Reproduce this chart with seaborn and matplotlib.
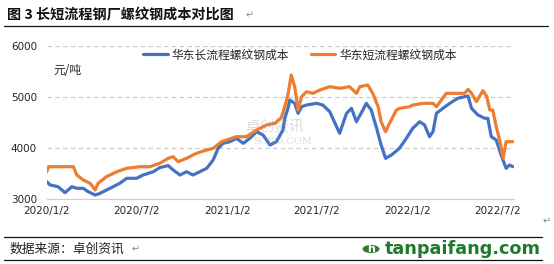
import matplotlib
matplotlib.use("Agg")
import matplotlib.pyplot as plt
from matplotlib.patches import Circle
from matplotlib.lines import Line2D
import seaborn as sns
import pandas as pd

# ---------------- data ----------------
long_dates = ["2020-01-02", "2020-01-09", "2020-01-25", "2020-02-08", "2020-02-22", "2020-03-03",
              "2020-03-16", "2020-03-26", "2020-04-09", "2020-04-19", "2020-05-09", "2020-05-29",
              "2020-06-12", "2020-07-02", "2020-07-15", "2020-08-05", "2020-08-18", "2020-09-04",
              "2020-09-14", "2020-09-28", "2020-10-11", "2020-10-24", "2020-11-07", "2020-11-21",
              "2020-12-04", "2020-12-14", "2020-12-24", "2021-01-07", "2021-01-20", "2021-02-03",
              "2021-02-16", "2021-03-02", "2021-03-15", "2021-03-29", "2021-04-11", "2021-04-18",
              "2021-04-24", "2021-04-28", "2021-05-05", "2021-05-08", "2021-05-18", "2021-05-25",
              "2021-06-01", "2021-06-11", "2021-07-01", "2021-07-14", "2021-07-28", "2021-08-17",
              "2021-08-31", "2021-09-10", "2021-09-20", "2021-10-03", "2021-10-10", "2021-10-20",
              "2021-10-30", "2021-11-09", "2021-11-18", "2021-11-30", "2021-12-16", "2021-12-30",
              "2022-01-06", "2022-01-12", "2022-01-26", "2022-02-05", "2022-02-15", "2022-02-22",
              "2022-03-01", "2022-03-14", "2022-03-28", "2022-04-13", "2022-04-27", "2022-05-04",
              "2022-05-11", "2022-05-24", "2022-06-07", "2022-06-13", "2022-06-20", "2022-06-30",
              "2022-07-10", "2022-07-20", "2022-07-27", "2022-08-03"]
long_cost = [3345, 3280, 3247, 3130, 3247, 3215,
             3215, 3149, 3084, 3117, 3215, 3313,
             3411, 3411, 3475, 3540, 3620, 3660,
             3573, 3475, 3540, 3475, 3540, 3607,
             3769, 3998, 4096, 4127, 4192, 4096,
             4192, 4323, 4258, 4063, 4127, 4250,
             4350, 4585, 4800, 4943, 4878, 4683,
             4812, 4845, 4878, 4845, 4714, 4292,
             4683, 4780, 4518, 4747, 4878, 4747,
             4421, 4063, 3802, 3867, 3998, 4192,
             4300, 4389, 4518, 4454, 4225, 4323,
             4683, 4780, 4878, 4976, 5008, 5021,
             4780, 4649, 4585, 4585, 4225, 4160,
             3867, 3607, 3671, 3638]

short_dates = ["2020-01-02", "2020-01-06", "2020-02-25", "2020-03-03", "2020-03-16", "2020-03-30",
               "2020-04-09", "2020-04-15", "2020-05-02", "2020-05-23", "2020-06-12", "2020-07-09",
               "2020-07-29", "2020-08-18", "2020-09-04", "2020-09-14", "2020-09-24", "2020-10-11",
               "2020-10-31", "2020-11-21", "2020-12-04", "2020-12-21", "2020-12-31", "2021-01-20",
               "2021-02-09", "2021-03-02", "2021-03-22", "2021-04-08", "2021-04-21", "2021-04-28",
               "2021-05-05", "2021-05-11", "2021-05-18", "2021-05-25", "2021-06-01", "2021-06-11",
               "2021-06-24", "2021-07-08", "2021-07-28", "2021-08-17", "2021-09-06", "2021-09-20",
               "2021-09-27", "2021-10-13", "2021-10-23", "2021-11-03", "2021-11-09", "2021-11-18",
               "2021-11-26", "2021-12-10", "2021-12-16", "2022-01-06", "2022-01-12", "2022-02-02",
               "2022-02-22", "2022-03-01", "2022-03-11", "2022-03-21", "2022-04-10", "2022-04-27",
               "2022-05-04", "2022-05-11", "2022-05-21", "2022-06-03", "2022-06-11", "2022-06-17",
               "2022-06-23", "2022-06-30", "2022-07-07", "2022-07-14", "2022-07-20", "2022-08-03"]
short_cost = [3540, 3638, 3638, 3475, 3378, 3313,
              3182, 3313, 3442, 3540, 3607, 3638,
              3638, 3705, 3802, 3834, 3736, 3802,
              3900, 3965, 3998, 4127, 4160, 4225,
              4225, 4356, 4454, 4487, 4600, 4812,
              5074, 5432, 5204, 4747, 5008, 5106,
              5074, 5139, 5204, 5172, 5204, 5074,
              5204, 5237, 5074, 4812, 4518, 4323,
              4487, 4747, 4780, 4812, 4845, 4878,
              4878, 4812, 4943, 5074, 5074, 5074,
              5152, 5074, 4910, 5126, 5008, 4747,
              4747, 4421, 4160, 3802, 4127, 4127]

series_names = ["华东长流程螺纹钢成本", "华东短流程螺纹钢成本"]
series_colors = ["#4472C4", "#ED7D31"]
xtick_dates = ["2020-01-02", "2020-07-02", "2021-01-02", "2021-07-02", "2022-01-02", "2022-07-02"]
xtick_labels = ["2020/1/2", "2020/7/2", "2021/1/2", "2021/7/2", "2022/1/2", "2022/7/2"]
ytick_values = [3000, 4000, 5000, 6000]

title_text = "图 3 长短流程钢厂螺纹钢成本对比图"
unit_text = "元/吨"
source_text = "数据来源：卓创资讯"

# ---------------- frame ----------------
df = pd.concat([
    pd.DataFrame({"date": pd.to_datetime(long_dates), "cost": long_cost, "series": series_names[0]}),
    pd.DataFrame({"date": pd.to_datetime(short_dates), "cost": short_cost, "series": series_names[1]}),
], ignore_index=True)

sns.set_theme(style="white")
plt.rcParams["font.family"] = ["Noto Sans CJK SC", "DejaVu Sans"]

W, H = 554, 264
fig = plt.figure(figsize=(W / 100, H / 100), dpi=100)
fig.patch.set_facecolor("white")
ax = fig.add_axes([46.7 / W, 1 - 199.3 / H, (514 - 46.7) / W, (199.3 - 46) / H])

sns.lineplot(data=df, x="date", y="cost", hue="series", hue_order=series_names,
             palette=series_colors, linewidth=2.3, ax=ax, legend=False)

ax.set_xlim(pd.Timestamp("2020-01-02"), pd.Timestamp("2022-08-05"))
ax.set_ylim(3000, 6000)
ax.set_xticks(pd.to_datetime(xtick_dates))
ax.set_xticklabels(xtick_labels, fontsize=7.5, color="#262626", family=["DejaVu Sans"])
ax.set_yticks(ytick_values)
ax.set_yticklabels([str(v) for v in ytick_values], fontsize=7.5, color="#262626", family=["DejaVu Sans"])
ax.tick_params(axis="y", length=0, pad=7)
ax.tick_params(axis="x", length=3, width=0.8, color="#bfbfbf", pad=1.5, direction="out")
ax.set_xlabel("")
ax.set_ylabel("")
for s in ["top", "right", "left"]:
    ax.spines[s].set_visible(False)
ax.spines["bottom"].set_color("#d0d0d0")
ax.spines["bottom"].set_linewidth(0.9)
for v in ytick_values[1:]:
    ax.axhline(v, color="#c8c8c8", linestyle=(0, (4, 3)), linewidth=0.8, zorder=0)

# legend
handles = [Line2D([0], [0], color=c, linewidth=2.3) for c in series_colors]
ax.legend(handles, series_names, ncol=2, frameon=False, fontsize=8.5,
          loc="center", bbox_to_anchor=(300 / W, 1 - 55 / H), bbox_transform=fig.transFigure,
          handlelength=2.1, handletextpad=0.35, columnspacing=1.8, borderaxespad=0)

# unit label
fig.text(53 / W, 1 - 70 / H, unit_text, fontsize=8.5, va="center", ha="left", color="#262626")

# watermark
fig.text(275 / W, 1 - 127 / H, "卓创资讯", fontsize=10.5, color="#9a9a9a", alpha=0.35,
         ha="center", va="center", zorder=5)
fig.text(283 / W, 1 - 141 / H, "SCI99.COM", fontsize=7, color="#9a9a9a", alpha=0.35,
         ha="center", va="center", zorder=5, family=["DejaVu Serif"])

# title and rules
fig.text(7 / W, 1 - 15 / H, title_text, fontsize=10.2, fontweight="bold", va="center", ha="left",
         color="#111111")
fig.text(246 / W, 1 - 15 / H, "↵", fontsize=7, va="center", ha="left", color="#8a8a8a",
         family=["DejaVu Sans"])
fig.add_artist(Line2D([4 / W, 548 / W], [1 - 26 / H, 1 - 26 / H], color="#111111", linewidth=0.9))
fig.text(543 / W, 1 - 221 / H, "↵", fontsize=7, va="center", ha="left", color="#8a8a8a",
         family=["DejaVu Sans"])
fig.add_artist(Line2D([4 / W, 542 / W], [1 - 237.4 / H, 1 - 237.4 / H], color="#111111", linewidth=0.9))
fig.add_artist(Line2D([4 / W, 542 / W], [1 - 259.7 / H, 1 - 259.7 / H], color="#111111", linewidth=0.9))
fig.text(10 / W, 1 - 249.5 / H, source_text, fontsize=9.2, va="center", ha="left", color="#222222")
fig.text(132 / W, 1 - 249.5 / H, "↵", fontsize=7, va="center", ha="left", color="#8a8a8a",
         family=["DejaVu Sans"])

# logo
fig.add_artist(Circle((371 / W, 1 - 249 / H), 8.5 / W, transform=fig.transFigure,
                      facecolor="#2e7d32", edgecolor="none"))
fig.text(371 / W, 1 - 249 / H, "h", fontsize=8, fontweight="bold", color="white",
         ha="center", va="center", family=["DejaVu Sans"])
fig.text(385 / W, 1 - 249 / H, "tanpaifang.com", fontsize=12.7, fontweight="bold",
         color="#1f7a2e", ha="left", va="center", family=["DejaVu Sans"])

fig.savefig("out.png", dpi=100, facecolor="white")
